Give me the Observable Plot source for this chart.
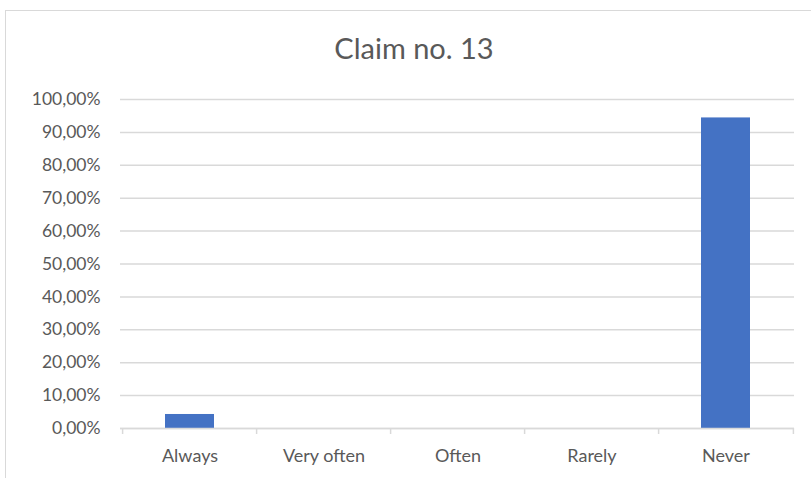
<!DOCTYPE html>
<html>
<head>
<meta charset="utf-8">
<script src="https://cdn.jsdelivr.net/npm/d3@7"></script>
<script src="https://cdn.jsdelivr.net/npm/@observablehq/plot@0.6"></script>
<style>
  html, body { margin: 0; padding: 0; background: #fff; }
  #wrap { position: relative; width: 811px; height: 478px; overflow: hidden; }
  #frame { position: absolute; left: 5px; top: 10px; width: 830px; height: 500px; border: 1.5px solid #d9d9d9; box-sizing: border-box; }
  #title { position: absolute; left: 0px; width: 828px; top: 30px; text-align: center; font-family: Lato, "Open Sans", sans-serif; font-size: 29px; color: #595959; line-height: 36px; }
  #chart { position: absolute; left: 0; top: 0; }
</style>
</head>
<body>
<div id="wrap">
  <div id="frame"></div>
  <div id="title">Claim no. 13</div>
  <div id="chart"></div>
</div>
<script>
const title = "Claim no. 13";
const categories = ["Always", "Very often", "Often", "Rarely", "Never"];
const values = [4.26, 0, 0, 0, 94.4];
const yTicks = [0, 10, 20, 30, 40, 50, 60, 70, 80, 90, 100];

const data = categories.map((c, i) => ({category: c, value: values[i]}));

const W = 811, H = 478, mL = 120, mR = 17, mT = 99, mB = 50;
const step = (W - mL - mR) / categories.length;
const fmt = d => d.toFixed(2).replace(".", ",") + "%";

const plot = Plot.plot({
  width: W,
  height: H,
  marginLeft: mL,
  marginRight: mR,
  marginTop: mT,
  marginBottom: mB,
  style: {fontFamily: "Lato, 'Open Sans', sans-serif", fontSize: "17px", color: "#595959", background: "transparent"},
  x: {domain: categories, paddingInner: 0.636, paddingOuter: 0.318, label: null},
  y: {domain: [0, 100], label: null},
  marks: [
    Plot.gridY(yTicks, {stroke: "#d9d9d9", strokeOpacity: 1, strokeWidth: 1.5}),
    Plot.barY(data, {x: "category", y: "value", fill: "#4472C4"}),
    Plot.ruleY([0], {stroke: "#d9d9d9", strokeWidth: 1.5}),
    Plot.ruleX(categories, {x: d => d, y1: 0, y2: 0, insetBottom: -6, dx: -step / 2, stroke: "#d9d9d9", strokeWidth: 1.5}),
    Plot.ruleX(categories.slice(-1), {x: d => d, y1: 0, y2: 0, insetBottom: -6, dx: step / 2, stroke: "#d9d9d9", strokeWidth: 1.5}),
    Plot.axisY(yTicks, {tickSize: 0, tickPadding: 20, tickFormat: fmt, fontSize: 17.5, fill: "#595959"}),
    Plot.axisX({tickSize: 0, tickPadding: 21, fontSize: 18, fill: "#595959"})
  ]
});
document.getElementById("chart").appendChild(plot);
</script>
</body>
</html>
